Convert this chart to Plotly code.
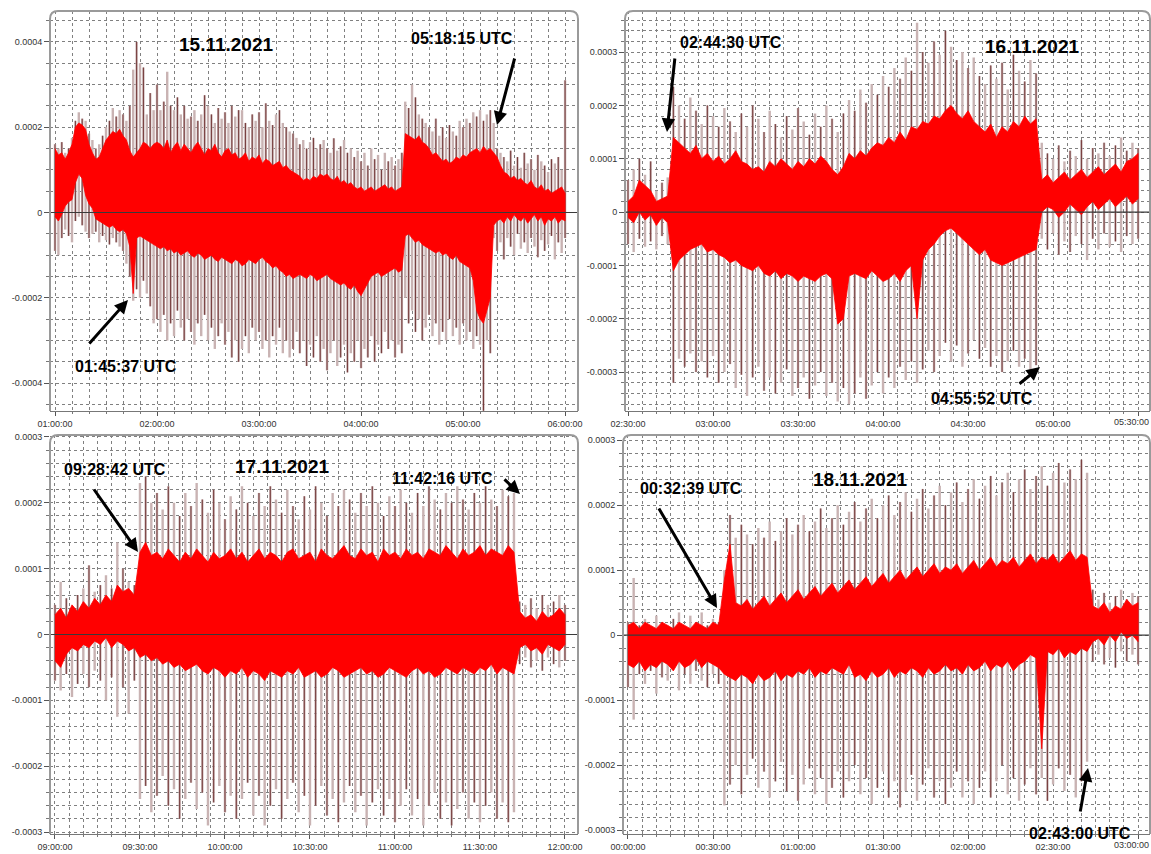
import plotly.graph_objects as go

W, H = 1151, 854
U = 1e-6  # values below are in units of 1e-6

# ---------------- Panel 1: 15.11.2021, minutes after 01:00:00 ----------------
p1_minutes = list(range(0, 301, 2))
p1_red_top = [150,135,140,125,140,160,200,210,205,195,
              160,140,125,130,150,170,180,190,185,195,
              180,170,145,130,140,150,165,160,150,160,
              165,160,150,170,140,155,165,145,160,150,
              140,155,165,150,135,150,145,160,140,130,
              145,150,135,140,125,130,140,120,130,125,
              135,115,125,120,110,115,120,105,110,100,
              95,90,85,75,80,75,85,80,90,85,
              90,80,75,85,70,75,65,70,60,55,
              60,50,55,60,50,55,60,65,55,60,
              50,55,60,185,180,175,170,180,165,160,
              150,135,140,130,120,125,115,120,130,125,
              135,130,140,145,150,140,155,145,150,140,
              130,110,95,90,80,85,75,80,70,65,
              75,60,55,65,50,55,45,50,55,60,
              45]
p1_red_bot = [-10,-20,-5,15,25,30,70,90,80,40,
              20,10,-15,-20,-25,-30,-35,-30,-40,-45,
              -40,-50,-80,-190,-60,-55,-60,-65,-70,-75,
              -80,-85,-80,-90,-85,-95,-90,-100,-95,-90,
              -100,-105,-95,-100,-110,-105,-100,-110,-115,-105,
              -110,-115,-120,-110,-115,-125,-120,-110,-115,-120,
              -110,-105,-115,-120,-130,-125,-135,-140,-150,-145,
              -155,-150,-145,-150,-155,-145,-150,-160,-155,-150,
              -145,-155,-160,-165,-170,-165,-175,-180,-170,-185,
              -195,-180,-165,-150,-145,-140,-150,-145,-140,-135,
              -130,-140,-135,-55,-50,-60,-70,-65,-75,-80,
              -85,-90,-95,-90,-100,-95,-105,-110,-100,-115,
              -120,-125,-130,-160,-230,-250,-260,-230,-200,-30,
              -20,-15,-25,-10,-20,-5,-15,-20,-10,-25,
              -15,-5,-20,-10,-30,-15,-20,-10,-25,-15,
              -20]
p1_spike_top = [160,150,165,140,150,175,215,235,220,215,
                185,170,150,160,180,200,215,245,225,240,
                230,215,250,335,400,350,340,230,280,240,
                300,240,260,330,250,240,270,230,250,220,
                225,240,215,230,275,250,230,210,245,220,
                235,210,250,225,240,240,210,200,230,215,
                235,200,256,215,205,230,240,210,200,190,
                185,175,160,170,150,165,175,150,160,170,
                150,140,174,145,155,170,140,150,130,145,
                120,140,110,150,125,135,100,140,120,130,
                110,125,140,260,245,300,270,230,220,210,
                200,190,220,180,200,175,205,190,180,215,
                200,220,210,235,225,240,215,230,240,210,
                150,140,130,120,145,110,130,105,140,115,
                125,100,135,120,110,95,125,115,130,100,
                310]
p1_spike_bot = [-90,-100,-60,-40,-55,-70,-20,-10,-30,-45,
                -60,-50,-45,-70,-55,-65,-75,-60,-70,-80,
                -90,-120,-150,-207,-180,-200,-160,-190,-220,-260,
                -250,-280,-240,-300,-260,-290,-230,-270,-300,-250,
                -280,-310,-260,-290,-240,-300,-270,-320,-290,-260,
                -310,-280,-340,-300,-350,-320,-290,-330,-270,-300,
                -280,-320,-300,-340,-290,-310,-270,-330,-300,-340,
                -320,-280,-330,-300,-360,-310,-340,-290,-350,-320,
                -370,-330,-300,-360,-340,-310,-375,-330,-350,-300,
                -365,-320,-340,-290,-350,-310,-330,-280,-320,-300,
                -340,-310,-330,-200,-260,-230,-280,-250,-300,-270,
                -240,-290,-260,-310,-280,-300,-250,-290,-270,-310,
                -260,-300,-280,-320,-290,-310,-465,-300,-330,-60,
                -90,-70,-110,-60,-80,-100,-50,-85,-70,-95,
                -60,-80,-105,-65,-90,-75,-55,-110,-70,-95,
                -60]
p1_tick_vals = [0, 60, 120, 180, 240, 300]
p1_tick_text = ["01:00:00", "02:00:00", "03:00:00", "04:00:00", "05:00:00", "06:00:00"]

# ---------------- Panel 2: 16.11.2021, minutes after 02:30:00 ----------------
p2_minutes = list(range(0, 181, 2))
p2_red_top = [20,30,60,50,40,20,25,30,140,130,
              120,110,125,100,110,95,105,90,100,115,
              95,90,80,85,75,95,85,100,90,80,
              95,85,100,90,105,95,80,70,85,110,
              100,115,105,120,130,125,140,130,150,135,
              160,155,170,165,180,175,190,200,185,175,
              190,170,160,150,165,140,160,150,170,160,
              180,165,175,60,70,55,65,75,60,70,
              80,65,75,85,70,80,90,75,95,100,
              110]
p2_red_bot = [-10,-20,0,-15,-5,-25,-10,-20,-110,-90,
              -80,-70,-65,-60,-75,-70,-80,-85,-95,-90,
              -100,-105,-110,-100,-115,-120,-110,-125,-115,-120,
              -130,-120,-125,-130,-120,-115,-125,-210,-200,-120,
              -115,-120,-125,-110,-120,-130,-125,-115,-130,-110,
              -100,-200,-90,-70,-60,-45,-35,-30,-40,-50,
              -60,-70,-80,-70,-90,-95,-100,-95,-90,-85,
              -80,-75,-70,0,10,5,-10,0,15,5,
              -5,10,20,5,15,25,10,20,30,15,
              25]
p2_spike_top = [60,80,100,70,95,40,55,65,235,200,
                175,215,190,165,200,180,160,195,170,150,
                185,160,200,175,150,190,165,140,180,155,
                195,170,145,185,160,200,175,150,185,210,
                190,230,205,240,220,255,235,270,250,290,
                265,355,300,280,320,295,340,310,285,300,
                270,290,255,240,275,250,280,230,295,265,
                245,285,260,130,110,100,125,95,115,105,
                135,100,120,110,130,105,125,140,115,130,
                120]
p2_spike_bot = [-60,-75,-50,-65,-55,-70,-45,-60,-320,-275,
                -290,-265,-300,-280,-310,-270,-320,-300,-285,-330,
                -305,-345,-310,-290,-335,-310,-340,-320,-295,-345,
                -330,-310,-350,-325,-300,-345,-320,-355,-330,-360,
                -340,-310,-350,-325,-300,-340,-310,-330,-290,-315,
                -280,-320,-295,-260,-300,-270,-245,-280,-250,-290,
                -265,-240,-275,-255,-290,-270,-300,-280,-260,-290,
                -275,-300,-287,-50,-70,-40,-80,-55,-75,-45,
                -60,-90,-50,-70,-40,-65,-55,-75,-45,-60,
                -50]
p2_tick_vals = [0, 30, 60, 90, 120, 150, 180]
p2_tick_text = ["02:30:00", "03:00:00", "03:30:00", "04:00:00", "04:30:00", "05:00:00", "05:30:00"]

# ---------------- Panel 3: 17.11.2021, minutes after 09:00:00 ----------------
p3_minutes = list(range(0, 181, 2))
p3_red_top = [30,40,25,45,35,50,40,55,45,60,
              50,75,65,70,60,125,140,120,125,115,
              130,120,110,125,115,130,120,110,125,115,
              120,130,115,125,110,120,130,115,125,120,
              110,125,130,115,120,125,110,130,120,115,
              125,135,120,115,130,120,125,110,130,120,
              125,115,130,120,125,115,130,125,120,135,
              125,115,130,120,125,135,120,130,125,120,
              135,125,35,25,30,20,35,25,30,40,
              30]
p3_red_bot = [-40,-50,-30,-20,-25,-15,-20,-10,-15,-5,
              -20,-10,-15,-25,-20,-35,-30,-40,-35,-45,
              -40,-50,-45,-55,-50,-45,-55,-60,-50,-55,
              -65,-55,-60,-50,-65,-55,-60,-70,-55,-60,
              -65,-55,-60,-50,-65,-60,-55,-65,-60,-50,
              -55,-65,-60,-55,-50,-60,-55,-65,-60,-50,
              -55,-60,-65,-55,-50,-60,-55,-65,-60,-50,
              -55,-60,-50,-55,-60,-50,-55,-45,-60,-50,
              -55,-60,-20,-15,-25,-20,-30,-15,-20,-25,
              -15]
p3_spike_top = [45,80,55,40,60,70,105,65,75,90,
                70,140,100,80,75,230,240,200,215,190,
                225,200,180,215,195,230,205,185,220,200,
                175,210,190,225,200,180,215,195,225,205,
                185,220,195,175,210,190,225,200,180,215,
                195,220,205,185,215,195,225,200,180,210,
                195,220,200,185,215,195,225,205,190,215,
                200,225,205,190,215,200,225,205,195,220,
                210,215,50,45,55,40,60,45,50,60,
                45]
p3_spike_bot = [-70,-85,-60,-95,-75,-60,-80,-55,-70,-100,
                -65,-125,-80,-120,-70,-250,-230,-270,-245,-215,
                -260,-235,-280,-250,-225,-265,-240,-290,-255,-230,
                -270,-245,-280,-250,-225,-275,-245,-290,-260,-235,
                -280,-250,-225,-270,-245,-290,-260,-230,-275,-250,
                -285,-255,-230,-270,-245,-290,-255,-235,-275,-250,
                -285,-260,-235,-275,-250,-290,-260,-240,-280,-255,
                -290,-265,-240,-280,-255,-285,-260,-240,-280,-255,
                -285,-270,-45,-35,-50,-40,-55,-35,-45,-50,
                -40]
p3_tick_vals = [0, 30, 60, 90, 120, 150, 180]
p3_tick_text = ["09:00:00", "09:30:00", "10:00:00", "10:30:00", "11:00:00", "11:30:00", "12:00:00"]

# ---------------- Panel 4: 18.11.2021, minutes after 00:00:00 ----------------
p4_minutes = list(range(0, 181, 2))
p4_red_top = [15,20,10,20,15,10,20,15,10,20,
              15,10,20,15,10,20,15,85,140,50,
              45,55,40,50,60,45,55,65,50,60,
              70,55,65,75,60,70,80,65,75,85,
              70,80,90,75,85,95,80,90,100,85,
              95,105,90,100,110,95,105,100,110,95,
              105,115,100,110,120,105,115,110,120,105,
              115,125,110,120,115,125,110,120,130,115,
              125,120,45,40,50,35,45,40,55,45,
              50]
p4_red_bot = [-45,-50,-40,-55,-45,-50,-40,-45,-55,-40,
              -50,-45,-35,-50,-40,-45,-50,-60,-65,-70,
              -60,-65,-75,-60,-70,-65,-55,-70,-60,-65,
              -55,-60,-50,-65,-55,-60,-50,-55,-60,-45,
              -65,-60,-70,-55,-65,-60,-50,-65,-55,-60,
              -50,-55,-65,-50,-60,-55,-45,-55,-50,-60,
              -45,-55,-50,-40,-55,-45,-50,-40,-55,-45,
              -40,-30,-35,-175,-25,-30,-20,-35,-25,-30,
              -20,-25,-10,-5,-15,0,-10,5,-5,0,
              -10]
p4_spike_top = [20,88,15,25,10,30,20,15,25,35,
                10,30,20,35,15,25,20,100,185,150,
                170,155,140,165,150,175,145,160,180,155,
                170,185,160,175,195,165,180,200,170,190,
                205,175,195,210,180,200,215,185,205,220,
                190,210,225,195,215,230,200,220,235,205,
                225,240,210,230,245,215,235,250,220,240,
                255,225,245,260,230,250,265,235,255,240,
                270,250,70,55,65,50,60,70,55,65,
                60]
p4_spike_bot = [-80,-130,-60,-75,-55,-90,-65,-70,-50,-85,
                -60,-75,-55,-70,-80,-60,-75,-262,-230,-200,
                -245,-215,-190,-235,-210,-250,-225,-195,-240,-215,
                -255,-230,-205,-245,-220,-260,-235,-210,-250,-225,
                -200,-245,-220,-260,-235,-210,-250,-225,-265,-240,
                -215,-255,-230,-205,-250,-225,-260,-235,-210,-250,
                -225,-260,-235,-210,-250,-225,-200,-245,-220,-255,
                -230,-205,-245,-220,-255,-230,-205,-240,-215,-250,
                -225,-195,-40,-30,-45,-35,-50,-25,-40,-30,
                -45]
p4_tick_vals = [0, 30, 60, 90, 120, 150, 180]
p4_tick_text = ["00:00:00", "00:30:00", "01:00:00", "01:30:00", "02:00:00", "02:30:00", "03:00:00"]

y4_vals = [-4e-4, -2e-4, 0, 2e-4, 4e-4]
y4_text = ["-0.0004", "-0.0002", "0", "0.0002", "0.0004"]
y3_vals = [-3e-4, -2e-4, -1e-4, 0, 1e-4, 2e-4, 3e-4]
y3_text = ["-0.0003", "-0.0002", "-0.0001", "0", "0.0001", "0.0002", "0.0003"]

titles = ["15.11.2021", "16.11.2021", "17.11.2021", "18.11.2021"]

# ---------------- layout geometry (pixels) ----------------
panels = [
    dict(t=p1_minutes, top=p1_red_top, bot=p1_red_bot, st=p1_spike_top, sb=p1_spike_bot,
         px=(50, 578), py=(11, 411), xr=(-2.94, 307.6), yr=(-4.655e-4, 4.725e-4),
         tv=p1_tick_vals, tt=p1_tick_text, xminor=10, yv=y4_vals, yt=y4_text, yminor=5e-5,
         edge_label=False),
    dict(t=p2_minutes, top=p2_red_top, bot=p2_red_bot, st=p2_spike_top, sb=p2_spike_bot,
         px=(625, 1150), py=(11, 411), xr=(-1.06, 184.2), yr=(-3.73e-4, 3.77e-4),
         tv=p2_tick_vals, tt=p2_tick_text, xminor=5, yv=y3_vals, yt=y3_text, yminor=2e-5,
         edge_label=True),
    dict(t=p3_minutes, top=p3_red_top, bot=p3_red_bot, st=p3_spike_top, sb=p3_spike_bot,
         px=(50, 578), py=(435, 834), xr=(-1.76, 184.6), yr=(-3.03e-4, 3.03e-4),
         tv=p3_tick_vals, tt=p3_tick_text, xminor=5, yv=y3_vals, yt=y3_text, yminor=2e-5,
         edge_label=False),
    dict(t=p4_minutes, top=p4_red_top, bot=p4_red_bot, st=p4_spike_top, sb=p4_spike_bot,
         px=(623, 1150), py=(435, 834), xr=(-1.76, 184.2), yr=(-3.06e-4, 3.08e-4),
         tv=p4_tick_vals, tt=p4_tick_text, xminor=5, yv=y3_vals, yt=y3_text, yminor=2e-5,
         edge_label=True),
]

LIGHT = "#c9b3b3"
DARK = "#733838"
RED = "#ff0000"
GRID = "#808080"
TICKFONT = dict(family="Liberation Sans, Arial, sans-serif", size=9, color="#333333")

fig = go.Figure()
layout = dict(width=W, height=H, margin=dict(l=0, r=0, t=0, b=0, pad=0, autoexpand=False),
              autosize=False, paper_bgcolor="white", plot_bgcolor="white", showlegend=False)
shapes = []
annotations = []

for i, p in enumerate(panels):
    n = i + 1
    xa = "x" if n == 1 else f"x{n}"
    ya = "y" if n == 1 else f"y{n}"
    t = p["t"]
    for arr in (p["top"], p["bot"], p["st"], p["sb"]):
        assert len(arr) == len(t), (n, len(arr), len(t))

    # spikes: light for all, dark for every other one
    lx, ly, dx, dy = [], [], [], []
    for k, (tt, lo, hi) in enumerate(zip(t, p["sb"], p["st"])):
        lx += [tt, tt, None]
        ly += [lo * U, hi * U, None]
        if k % 2 == 0:
            dx += [tt, tt, None]
            dy += [lo * U, hi * U, None]
    fig.add_trace(go.Scatter(x=lx, y=ly, mode="lines", line=dict(color=LIGHT, width=2.4),
                             xaxis=xa, yaxis=ya, hoverinfo="skip"))
    fig.add_trace(go.Scatter(x=dx, y=dy, mode="lines", line=dict(color=DARK, width=1),
                             xaxis=xa, yaxis=ya, hoverinfo="skip"))
    # dense red band
    fx = list(t) + list(t)[::-1]
    fy = [v * U for v in p["top"]] + [v * U for v in p["bot"]][::-1]
    fig.add_trace(go.Scatter(x=fx, y=fy, mode="lines", fill="toself", fillcolor=RED,
                             line=dict(color=RED, width=0.8), xaxis=xa, yaxis=ya,
                             hoverinfo="skip"))

    x0p, x1p = p["px"]
    y0p, y1p = p["py"]
    kx = "xaxis" if n == 1 else f"xaxis{n}"
    ky = "yaxis" if n == 1 else f"yaxis{n}"

    tick_text = list(p["tt"])
    if p["edge_label"]:
        # the last label sits at the page edge: draw it right-aligned instead
        annotations.append(dict(xref="paper", yref="paper", x=1.0, y=1 - (y1p + 11) / H,
                                text=tick_text[-1], showarrow=False, xanchor="right",
                                yanchor="middle", font=TICKFONT))
        tick_text[-1] = ""

    layout[kx] = dict(domain=[x0p / W, x1p / W], range=list(p["xr"]), anchor=ya,
                      automargin=False, ticklabeloverflow="allow",
                      tickmode="array", tickvals=p["tv"], ticktext=tick_text,
                      showgrid=True, gridcolor=GRID, griddash="dot", gridwidth=1,
                      zeroline=False, showline=True, linecolor="#777777", linewidth=1,
                      ticks="outside", ticklen=4, tickcolor="#555555", tickfont=TICKFONT,
                      minor=dict(tickmode="linear", tick0=0, dtick=p["xminor"], showgrid=True,
                                 gridcolor=GRID, griddash="dot", gridwidth=1,
                                 ticks="outside", ticklen=2, tickcolor="#777777"),
                      fixedrange=True)
    layout[ky] = dict(domain=[1 - y1p / H, 1 - y0p / H], range=list(p["yr"]), anchor=xa,
                      automargin=False, ticklabeloverflow="allow",
                      tickmode="array", tickvals=p["yv"], ticktext=p["yt"],
                      showgrid=True, gridcolor=GRID, griddash="dot", gridwidth=1,
                      zeroline=False, showline=False,
                      ticks="outside", ticklen=5, tickcolor="#555555", tickfont=TICKFONT,
                      minor=dict(tickmode="linear", tick0=0, dtick=p["yminor"], showgrid=True,
                                 gridcolor=GRID, griddash="dot", gridwidth=1,
                                 ticks="outside", ticklen=3, tickcolor="#777777"),
                      fixedrange=True)

    # zero line above the data
    shapes.append(dict(type="line", xref=f"{xa} domain", yref=ya, x0=0, x1=1, y0=0, y1=0,
                       line=dict(color="#3a3a3a", width=1.2), layer="above"))
    # rounded frame (left, top, right)
    r = 8
    L, T, R, B = x0p / W, 1 - y0p / H, x1p / W, 1 - y1p / H
    rx, ry = r / W, r / H
    path = (f"M {L},{B} L {L},{T - ry} Q {L},{T} {L + rx},{T} "
            f"L {R - rx},{T} Q {R},{T} {R},{T - ry} L {R},{B}")
    shapes.append(dict(type="path", xref="paper", yref="paper", path=path,
                       line=dict(color="#9a9a9a", width=2), layer="above"))

# titles
title_pos = [(226, 45), (1032, 47), (282, 466), (860, 480)]
for txt, (x, y) in zip(titles, title_pos):
    annotations.append(dict(xref="paper", yref="paper", x=x / W, y=1 - y / H, text=f"<b>{txt}</b>",
                            showarrow=False, xanchor="center", yanchor="middle",
                            font=dict(family="Liberation Sans, Arial, sans-serif", size=19, color="black")))

# event labels and arrows (tail -> tip in pixels)
events = [
    ("01:45:37 UTC", (126, 366), (88, 345), (128, 300)),
    ("05:18:15 UTC", (462, 38), (515, 57), (497, 125)),
    ("02:44:30 UTC", (731, 42), (675, 57), (667, 132)),
    ("04:55:52 UTC", (982, 398), (1018, 385), (1040, 367)),
    ("09:28:42 UTC", (115, 470), (93, 488), (138, 552)),
    ("11:42:16 UTC", (442, 479), (503, 478), (520, 494)),
    ("00:32:39 UTC", (691, 488), (658, 507), (717, 608)),
    ("02:43:00 UTC", (1080, 833), (1080, 813), (1088, 768)),
]
for txt, (tx, ty), (ax, ay), (hx, hy) in events:
    annotations.append(dict(xref="paper", yref="paper", x=tx / W, y=1 - ty / H, text=f"<b>{txt}</b>",
                            showarrow=False, xanchor="center", yanchor="middle",
                            font=dict(family="Liberation Sans, Arial, sans-serif", size=16, color="black")))
    annotations.append(dict(xref="paper", yref="paper", x=hx / W, y=1 - hy / H, text="",
                            showarrow=True, ax=ax - hx, ay=ay - hy, axref="pixel", ayref="pixel",
                            arrowhead=2, arrowsize=0.9, arrowwidth=3, arrowcolor="black", standoff=0))

layout["shapes"] = shapes
layout["annotations"] = annotations
fig.update_layout(**layout)
fig.write_html("out.html", config={"displayModeBar": False, "responsive": False})

# remove the default page margins so the figure sits at the window origin
with open("out.html", "r", encoding="utf-8") as f:
    html = f.read()
html = html.replace("<head>", "<head><style>html,body{margin:0;padding:0;overflow:hidden;}</style>", 1)
with open("out.html", "w", encoding="utf-8") as f:
    f.write(html)
